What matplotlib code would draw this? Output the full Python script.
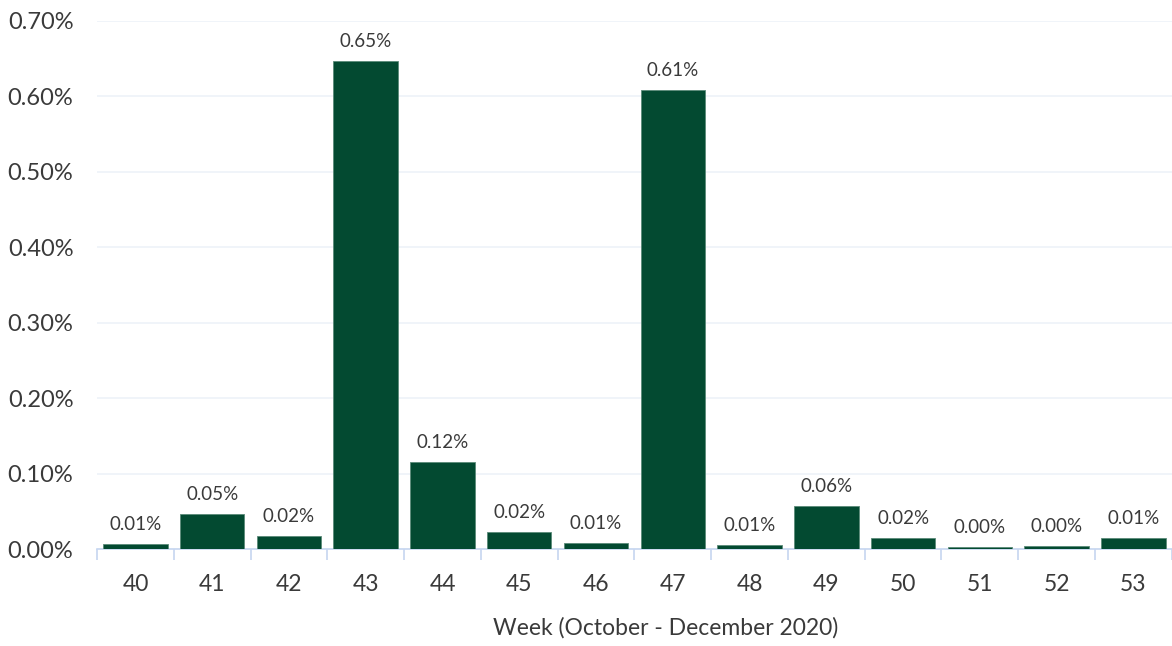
import matplotlib.pyplot as plt
import numpy as np

weeks = ['40', '41', '42', '43', '44', '45', '46', '47', '48', '49', '50', '51', '52', '53']
# share in percent
share = [0.0068, 0.046, 0.0172, 0.647, 0.115, 0.0225, 0.0082, 0.609, 0.0055, 0.057, 0.0152, 0.0027, 0.0038, 0.0142]
yticks = [0.0, 0.1, 0.2, 0.3, 0.4, 0.5, 0.6, 0.7]

bar_col = '#034a31'
txt_col = '#3a3a3a'
plt.rcParams['font.family'] = ['Lato', 'DejaVu Sans']

fig = plt.figure(figsize=(11.72, 6.46), dpi=100)
ax = fig.add_axes([0.0828, 0.150, 0.917, 0.8175])

x = np.arange(len(weeks))
bars = ax.bar(x, share, width=0.84, color=bar_col, edgecolor='#5a8a78', linewidth=0.6, zorder=3)
for xi, v in zip(x, share):
    ax.annotate('{:.2f}%'.format(v), (xi, v), xytext=(0, 8), textcoords='offset points',
                ha='center', va='bottom', fontsize=13.5, color=txt_col)

ax.set_xlim(-0.5, len(weeks) - 0.5)
ax.set_ylim(0, 0.7)
ax.set_yticks(yticks)
ax.set_yticklabels(['{:.2f}%'.format(t) for t in yticks])
ax.yaxis.grid(True, color='#eef2f8', linewidth=1.2, zorder=0)
ax.tick_params(axis='y', length=0, labelsize=17, labelcolor=txt_col, pad=17)

# category ticks at boundaries, labels at centres
ax.set_xticks(np.arange(-0.5, len(weeks), 1.0))
ax.set_xticklabels([])
ax.set_xticks(x, minor=True)
ax.set_xticklabels(weeks, minor=True)
ax.tick_params(axis='x', which='major', length=8, color='#c6d6f0', width=1.2)
ax.tick_params(axis='x', which='minor', length=0, labelsize=16.5, labelcolor=txt_col, pad=18)

for s in ['top', 'right', 'left']:
    ax.spines[s].set_visible(False)
ax.spines['bottom'].set_color('#c6d6f0')
ax.spines['bottom'].set_linewidth(1.2)

ax.set_xlabel('Week (October - December 2020)', fontsize=16.5, color=txt_col)
ax.xaxis.set_label_coords(0.529, -0.128)

fig.savefig('out.png', dpi=100)
